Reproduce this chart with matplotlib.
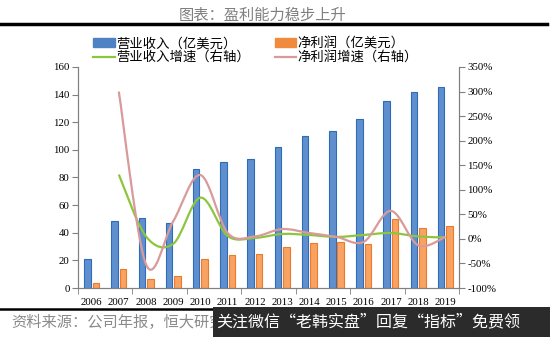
import matplotlib.pyplot as plt
import numpy as np
from matplotlib.path import Path
from matplotlib.patches import PathPatch, Rectangle
from matplotlib.lines import Line2D
from matplotlib.ticker import FuncFormatter

plt.rcParams['font.family'] = ['Noto Sans CJK SC', 'DejaVu Sans']

# data
years = ['2006', '2007', '2008', '2009', '2010', '2011', '2012',
         '2013', '2014', '2015', '2016', '2017', '2018', '2019']
revenue = [21, 48.8, 50.7, 47, 86, 91, 93.2, 102, 110.4, 113.8, 122.5, 135.7, 141.8, 145.4]
net_profit = [3.6, 13.8, 6.7, 9, 21, 23.7, 24.9, 29.7, 32.6, 33.6, 32, 50, 43.7, 45]
# growth in %, from 2007 on
rev_growth = [131, 5, -10, 84, 6, 2, 10, 8, 4, 8, 12, 5, 3]
net_growth = [300, -52, 36, 130, 12, 5, 20, 12, 4, -6, 57, -13, 4]

serif = 'Liberation Serif'


def smooth_path(xs, ys):
    # excel style smoothed line: catmull-rom drawn as cubic beziers
    pts = np.column_stack([xs, ys]).astype(float)
    n = len(pts)
    verts = [pts[0]]
    codes = [Path.MOVETO]
    for i in range(n - 1):
        p0 = pts[max(i - 1, 0)]
        p1 = pts[i]
        p2 = pts[i + 1]
        p3 = pts[min(i + 2, n - 1)]
        c1 = p1 + (p2 - p0) / 6
        c2 = p2 - (p3 - p1) / 6
        verts += [c1, c2, p2]
        codes += [Path.CURVE4] * 3
    return Path(verts, codes)


fig = plt.figure(figsize=(5.5, 3.37), dpi=100)
ax = fig.add_axes([0.1418, 0.1454, 0.6927, 0.6558])
ax2 = ax.twinx()

x = np.arange(len(years))
w = 0.24
ax.bar(x - 0.155, revenue, w, color='#5f8fcf', edgecolor='#2f6cb8', linewidth=0.8, zorder=2)
ax.bar(x + 0.155, net_profit, w, color='#f9a362', edgecolor='#ec7a2c', linewidth=0.8, zorder=2)

gx = x[1:]
ax2.add_patch(PathPatch(smooth_path(gx, np.array(rev_growth) / 100), fill=False,
                        edgecolor='#8cc63f', linewidth=1.6, zorder=3))
ax2.add_patch(PathPatch(smooth_path(gx, np.array(net_growth) / 100), fill=False,
                        edgecolor='#d99a9a', linewidth=1.6, zorder=4))

ax.set_xlim(-0.5, 13.5)
ax.set_ylim(0, 160)
ax.set_yticks(range(0, 161, 20))
ax2.set_ylim(-1.0, 3.5)
ax2.set_yticks(np.arange(-1.0, 3.51, 0.5))
ax2.yaxis.set_major_formatter(FuncFormatter(lambda v, p: '{:.0f}%'.format(v * 100)))

ax.set_xticks(x)
ax.set_xticklabels(years)
ax.set_xticks(np.arange(-0.5, 13.6, 2), minor=True)
ax.tick_params(axis='x', which='major', length=0, pad=7)
ax.tick_params(axis='x', which='minor', length=4, color='#808080', direction='out')
ax.tick_params(axis='y', length=4, color='#808080', pad=2)
ax2.tick_params(axis='y', length=4, color='#808080', pad=2)

for a in (ax, ax2):
    for lab in a.get_xticklabels() + a.get_yticklabels():
        lab.set_fontfamily(serif)
        lab.set_fontsize(7.8)
    for s in a.spines.values():
        s.set_color('#808080')
    a.spines['top'].set_visible(False)

# legend
handles = [
    Rectangle((0, 0), 1, 1, facecolor='#4f82c4', edgecolor='#4f82c4'),
    Line2D([], [], color='#8cc63f', linewidth=1.6),
    Rectangle((0, 0), 1, 1, facecolor='#f08a3c', edgecolor='#f08a3c'),
    Line2D([], [], color='#d99a9a', linewidth=1.6),
]
labels = ['营业收入（亿美元）', '营业收入增速（右轴）', '净利润（亿美元）', '净利润增速（右轴）']
fig.legend(handles, labels, ncol=2, loc='center', bbox_to_anchor=(0.465, 0.851),
           frameon=False, fontsize=9.6, handlelength=1.6, handleheight=0.55,
           handletextpad=0.1, columnspacing=1.9, labelspacing=0.0, borderpad=0)

# header and footer
fig.text(0.478, 0.955, '图表：盈利能力稳步上升', ha='center', va='center',
         fontsize=11, color='#7f7f7f')
fig.add_artist(Line2D([0.0, 0.995], [0.928, 0.928], color='black', linewidth=2.5))
fig.add_artist(Line2D([0.0, 1.0], [0.083, 0.083], color='black', linewidth=1.8))
fig.text(0.02, 0.042, '资料来源：公司年报，恒大研究院', ha='left', va='center',
         fontsize=11, color='#8a8a8a', style='italic')
fig.add_artist(Rectangle((0.388, 0.0), 0.612, 0.09, transform=fig.transFigure,
                         facecolor='#2b2b2b', edgecolor='none', zorder=5))
fig.text(0.67, 0.045, '关注微信“老韩实盘”回复“指标”免费领', ha='center', va='center',
         fontsize=11.5, color='white', zorder=6)

fig.savefig('out.png', dpi=100)
